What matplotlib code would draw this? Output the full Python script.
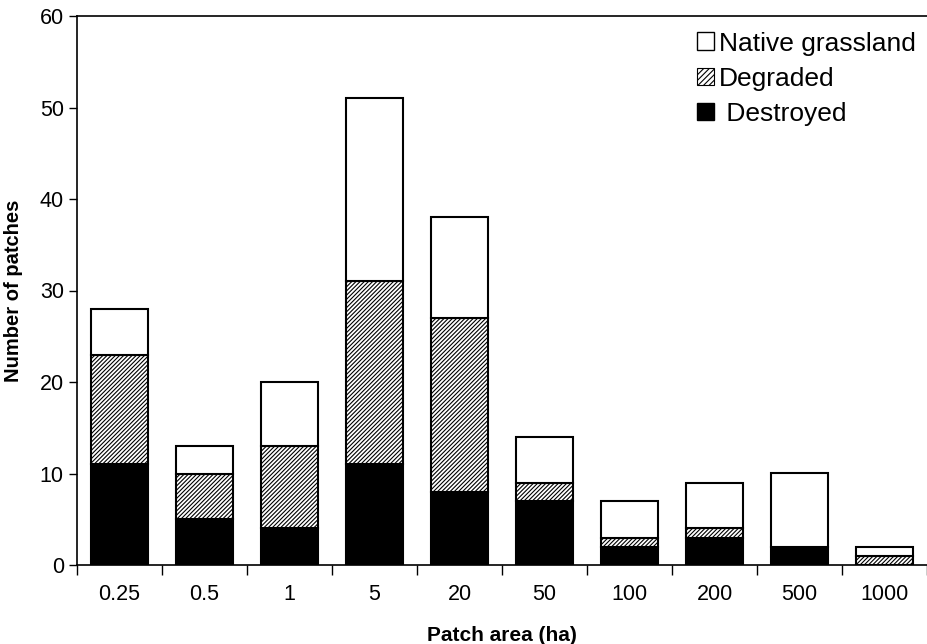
import matplotlib
matplotlib.use("Agg")
import matplotlib.pyplot as plt
from matplotlib.patches import Patch
import numpy as np

categories = ["0.25", "0.5", "1", "5", "20", "50", "100", "200", "500", "1000"]
destroyed = [11, 5, 4, 11, 8, 7, 2, 3, 2, 0]
degraded = [12, 5, 9, 20, 19, 2, 1, 1, 0, 1]
native = [5, 3, 7, 20, 11, 5, 4, 5, 8, 1]

plt.rcParams['font.family'] = ['Liberation Sans', 'DejaVu Sans']
plt.rcParams['hatch.linewidth'] = 0.8

fig = plt.figure(figsize=(9.28, 6.44), dpi=100)
ax = fig.add_axes([77/928, 1 - 565/644, 850/928, (565 - 16)/644])

x = np.arange(len(categories))
w = 0.68
d = np.array(destroyed)
g = np.array(degraded)
n = np.array(native)
ax.bar(x, d, w, color='black', edgecolor='black', linewidth=1.5, zorder=2)
ax.bar(x, g, w, bottom=d, color='white', edgecolor='black', hatch='////////', linewidth=1.5, zorder=2)
ax.bar(x, n, w, bottom=d + g, color='white', edgecolor='black', linewidth=1.5, zorder=2)

ax.set_xlim(-0.5, len(categories) - 0.5)
ax.set_ylim(0, 60)
ax.set_yticks(range(0, 61, 10))
ax.set_xticks(x)
ax.set_xticklabels(categories, fontsize=15.5)
ax.tick_params(axis='x', length=0, pad=14)
ax.set_xticks(np.arange(-0.5, len(categories) - 0.4, 1), minor=True)
ax.tick_params(axis='x', which='minor', length=7, width=1, direction='out')
ax.tick_params(axis='y', labelsize=15.5, length=6, width=1, direction='out')

ax.spines['right'].set_visible(False)
for s in ['left', 'bottom', 'top']:
    ax.spines[s].set_linewidth(1.2)

ax.set_xlabel("Patch area (ha)", fontsize=15, fontweight='bold', labelpad=15)
ax.set_ylabel("Number of patches", fontsize=14.5, fontweight='bold', labelpad=12)

handles = [
    Patch(facecolor='white', edgecolor='black', linewidth=1),
    Patch(facecolor='white', edgecolor='black', hatch='//////', linewidth=0.8),
    Patch(facecolor='black', edgecolor='black', linewidth=1),
]
ax.legend(handles, ["Native grassland", "Degraded", " Destroyed"], loc='upper right',
          frameon=False, fontsize=19, handlelength=0.65, handleheight=0.65,
          handletextpad=0.2, labelspacing=0.42, bbox_to_anchor=(1.015, 1.015))

fig.savefig("out.png", dpi=100)
